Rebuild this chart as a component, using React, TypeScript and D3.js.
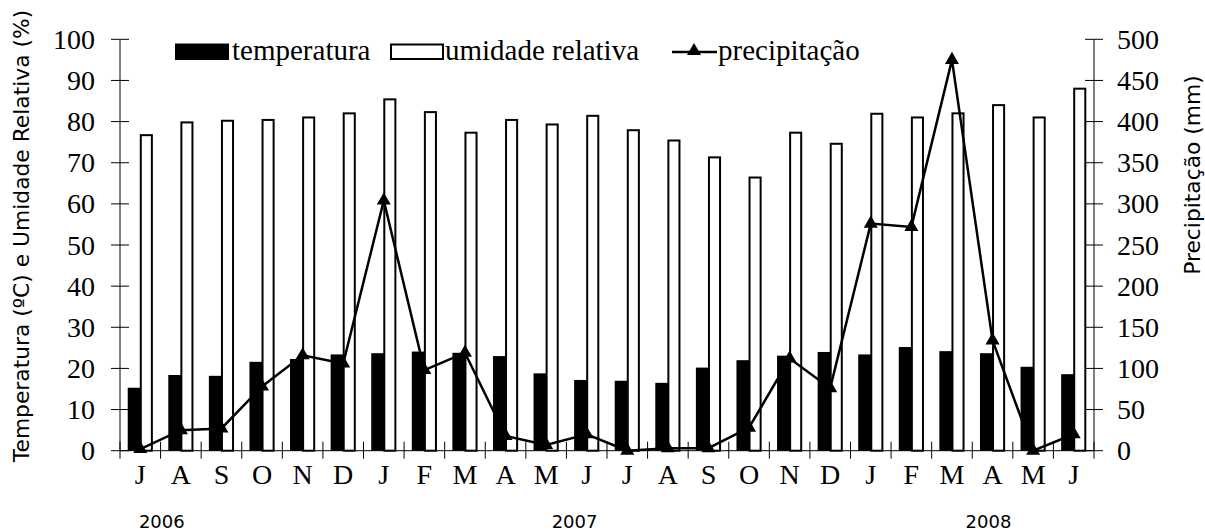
import * as d3 from "d3";

// months from Jul 2006 to Jun 2008
const months = ["J", "A", "S", "O", "N", "D", "J", "F", "M", "A", "M", "J", "J", "A", "S", "O", "N", "D", "J", "F", "M", "A", "M", "J"];
const temperatura = [15.3, 18.4, 18.2, 21.6, 22.3, 23.4, 23.7, 24.1, 23.8, 23.0, 18.8, 17.2, 17.0, 16.5, 20.2, 22.0, 23.1, 24.0, 23.4, 25.2, 24.2, 23.7, 20.4, 18.6];
const umidade = [76.7, 79.8, 80.2, 80.4, 81.0, 82.0, 85.4, 82.3, 77.3, 80.4, 79.3, 81.4, 77.9, 75.4, 71.3, 66.4, 77.3, 74.6, 81.9, 81.0, 82.0, 84.0, 81.0, 88.0];
const precipitacao = [2, 25, 27, 78, 116, 106, 304, 98, 119, 18, 7, 20, 0, 3, 3, 28, 112, 76, 276, 272, 475, 134, 0, 20];
const leftTicks = [0, 10, 20, 30, 40, 50, 60, 70, 80, 90, 100];
const rightTicks = [0, 50, 100, 150, 200, 250, 300, 350, 400, 450, 500];
const years = ["2006", "2007", "2008"];
const yearPos = [1.03, 11.2, 21.4]; // in month units from the left axis

const W = 1205;
const H = 532;
const serif = "Liberation Serif";
const sans = "DejaVu Sans";

export default function App() {
  const x0 = 120;
  const x1 = 1094;
  const yBase = 450.7;
  const yTop = 39.3;

  const idx = months.map((_, i) => i);
  const x = d3.scaleBand<number>().domain(idx).range([x0, x1]).paddingInner(0.38).paddingOuter(0.19);
  const xSub = d3.scaleBand<string>().domain(["t", "u"]).range([0, x.bandwidth()]);
  const xUnit = d3.scaleLinear().domain([0, months.length]).range([x0, x1]);
  const yL = d3.scaleLinear().domain([0, 100]).range([yBase, yTop]);
  const yR = d3.scaleLinear().domain([0, 500]).range([yBase, yTop]);
  const cx = (i: number) => (x(i) as number) + x.bandwidth() / 2;

  const line = d3
    .line<number>()
    .x((_, i) => cx(i))
    .y((d) => yR(d));
  const tri = d3.symbol(d3.symbolTriangle, 85)() as string;

  const boundaries = d3.range(0, months.length + 1);

  return (
    <svg width={W} height={H} style={{ position: "absolute", left: 0, top: 0, background: "#fff" }}>
      {/* bars */}
      {temperatura.map((d, i) => (
        <rect key={"t" + i} x={(x(i) as number) + (xSub("t") as number)} y={yL(d)} width={xSub.bandwidth() + 0.5} height={yBase - yL(d)} fill="#000" />
      ))}
      {umidade.map((d, i) => (
        <rect key={"u" + i} x={(x(i) as number) + (xSub("u") as number) + 0.5} y={yL(d)} width={xSub.bandwidth() - 1.5} height={yBase - yL(d)} fill="#fff" stroke="#000" strokeWidth={2} />
      ))}

      {/* axes */}
      <g stroke="#000" strokeWidth={1}>
        <line x1={x0} x2={x0} y1={yTop} y2={yBase} />
        <line x1={x1} x2={x1} y1={yTop} y2={yBase} />
        <line x1={x0} x2={x1} y1={yBase} y2={yBase} />
        {leftTicks.map((t) => (
          <line key={"lt" + t} x1={x0 - 9} x2={x0 + 9} y1={yL(t)} y2={yL(t)} />
        ))}
        {rightTicks.map((t) => (
          <line key={"rt" + t} x1={x1 - 9} x2={x1 + 9} y1={yR(t)} y2={yR(t)} />
        ))}
        {boundaries.map((b) => (
          <line key={"bt" + b} x1={xUnit(b)} x2={xUnit(b)} y1={yBase - 9} y2={yBase + 8} />
        ))}
      </g>

      {/* precipitation line */}
      <path d={line(precipitacao) as string} fill="none" stroke="#000" strokeWidth={2.5} />
      {precipitacao.map((d, i) => (
        <path key={"p" + i} d={tri} transform={`translate(${cx(i)},${yR(d)})`} fill="#000" />
      ))}

      {/* tick labels */}
      {leftTicks.map((t) => (
        <text key={"ll" + t} x={95} y={yL(t)} dy="0.34em" textAnchor="end" fontFamily={serif} fontSize={28}>
          {t}
        </text>
      ))}
      {rightTicks.map((t) => (
        <text key={"rl" + t} x={1117} y={yR(t)} dy="0.34em" textAnchor="start" fontFamily={serif} fontSize={28}>
          {t}
        </text>
      ))}
      {months.map((m, i) => (
        <text key={"m" + i} x={cx(i)} y={484} textAnchor="middle" fontFamily={serif} fontSize={28}>
          {m}
        </text>
      ))}
      {years.map((yr, i) => (
        <text key={yr} x={xUnit(yearPos[i])} y={528} textAnchor="middle" fontFamily={sans} fontSize={18}>
          {yr}
        </text>
      ))}

      {/* axis titles */}
      <text transform="translate(29,236) rotate(-90)" textAnchor="middle" fontFamily={sans} fontSize={21.8}>
        Temperatura (ºC) e Umidade Relativa (%)
      </text>
      <text transform="translate(1200,175) rotate(-90)" textAnchor="middle" fontFamily={sans} fontSize={21.8}>
        Precipitação (mm)
      </text>

      {/* legend */}
      <rect x={175} y={43.5} width={54} height={16.5} fill="#000" />
      <text x={232} y={60} fontFamily={serif} fontSize={29}>temperatura</text>
      <rect x={391} y={44.5} width={52} height={14.5} fill="#fff" stroke="#000" strokeWidth={2} />
      <text x={445} y={60} fontFamily={serif} fontSize={29}>umidade relativa</text>
      <line x1={672} x2={717} y1={52} y2={52} stroke="#000" strokeWidth={2.5} />
      <path d={tri} transform="translate(694,51)" fill="#000" />
      <text x={718} y={60} fontFamily={serif} fontSize={29}>precipitação</text>
    </svg>
  );
}
